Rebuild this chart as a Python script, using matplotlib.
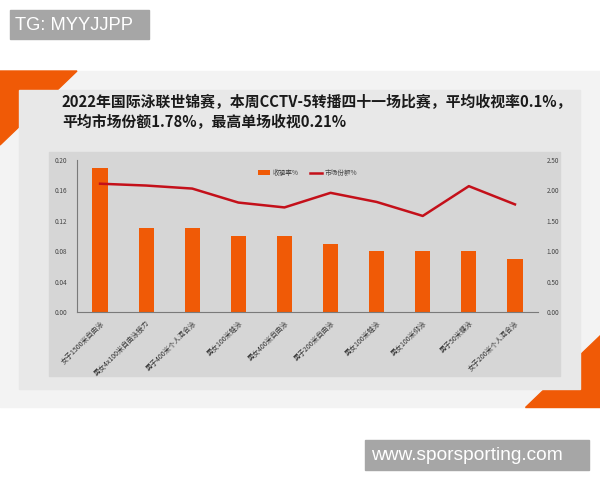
import matplotlib.pyplot as plt
from matplotlib.patches import Rectangle, Polygon

plt.rcParams['font.family'] = ['Noto Sans CJK SC', 'DejaVu Sans']

categories = ['女子1500米自由泳', '男女4x100米自由泳接力', '男子400米个人混合泳',
              '男女100米蛙泳', '男女400米自由泳', '男子200米自由泳',
              '男女100米蛙泳', '男女100米仰泳', '男子50米蝶泳', '女子200米个人混合泳']
ratings = [0.19, 0.11, 0.11, 0.10, 0.10, 0.09, 0.08, 0.08, 0.08, 0.07]
market_share = [2.11, 2.08, 2.03, 1.80, 1.72, 1.96, 1.81, 1.58, 2.07, 1.77]
left_ticks = [0.00, 0.04, 0.08, 0.12, 0.16, 0.20]
right_ticks = [0.00, 0.50, 1.00, 1.50, 2.00, 2.50]

title = ('2022年国际泳联世锦赛，本周CCTV-5转播四十一场比赛，平均收视率0.1%，\n'
         '平均市场份额1.78%，最高单场收视0.21%')

W, H = 600, 480
fig = plt.figure(figsize=(6, 4.8), dpi=100)
fig.patch.set_facecolor('white')


def px(x, y):
    # pixel coords from top-left -> figure fraction
    return (x / W, 1 - y / H)


def box(x0, y0, x1, y1, color):
    fig.patches.append(Rectangle(px(x0, y1), (x1 - x0) / W, (y1 - y0) / H,
                                 transform=fig.transFigure, color=color, zorder=-5))


def poly(points, color):
    fig.patches.append(Polygon([px(x, y) for x, y in points], closed=True,
                               transform=fig.transFigure, color=color, zorder=-5))


orange = '#f05a06'

# backgrounds
box(0, 71, 600, 407, '#f3f3f3')
poly([(0, 71), (77, 71), (0, 145)], orange)
poly([(600, 335), (600, 407), (525, 407)], orange)
box(19, 90, 580, 389, '#e8e8e8')
box(49, 152, 560, 376, '#d6d6d6')

# watermark boxes
box(10, 10, 149, 39, '#a6a6a6')
fig.text(*px(15, 25), 'TG: MYYJJPP', family='Liberation Sans', fontsize=13.2,
         color='white', va='center', ha='left')
box(365, 440, 589, 470, '#a6a6a6')
fig.text(*px(371, 455), 'www.sporsporting.com', family='Liberation Sans', fontsize=13.8,
         color='white', va='center', ha='left')

# title
fig.text(*px(62, 112), title, fontsize=10.7, fontweight='heavy', color='#1a1a1a',
         va='center', ha='left', linespacing=1.25)

# chart
ax = fig.add_axes([77 / W, 1 - 312 / H, 461 / W, 152 / H])
ax.set_facecolor('none')
x = list(range(len(categories)))
bars = ax.bar(x, ratings, width=0.33, color=orange, label='收视率%', zorder=2)
ax.set_xlim(-0.5, len(categories) - 0.5)
ax.set_ylim(0, 0.20)
ax.set_yticks(left_ticks)
ax.set_yticklabels([f'{v:.2f}' for v in left_ticks])
ax.set_xticks(x)
ax.set_xticklabels(categories, rotation=45, ha='right', va='top', rotation_mode='anchor')
ax.tick_params(axis='y', length=0, pad=7, labelsize=4.6, labelcolor='#444444')
ax.tick_params(axis='x', length=0, pad=5, labelsize=5, labelcolor='#333333')
for side in ['top', 'right']:
    ax.spines[side].set_visible(False)
ax.spines['left'].set_color('#7a7a7a')
ax.spines['left'].set_linewidth(0.8)
ax.spines['bottom'].set_color('#7a7a7a')
ax.spines['bottom'].set_linewidth(0.8)

ax2 = ax.twinx()
line, = ax2.plot(x, market_share, color='#c4101a', linewidth=1.8, label='市场份额%', zorder=3)
ax2.set_ylim(0, 2.5)
ax2.set_yticks(right_ticks)
ax2.set_yticklabels([f'{v:.2f}' for v in right_ticks])
ax2.tick_params(axis='y', length=0, pad=6, labelsize=4.6, labelcolor='#444444')
for side in ['top', 'right', 'left', 'bottom']:
    ax2.spines[side].set_visible(False)

ax2.legend([bars, line], ['收视率%', '市场份额%'], loc='upper center',
           bbox_to_anchor=(0.5, 0.98), ncol=2, frameon=False, fontsize=4.8,
           handlelength=1.8, columnspacing=1.6, handletextpad=0.4,
           labelcolor='#444444')

fig.savefig('out.png', dpi=100)
